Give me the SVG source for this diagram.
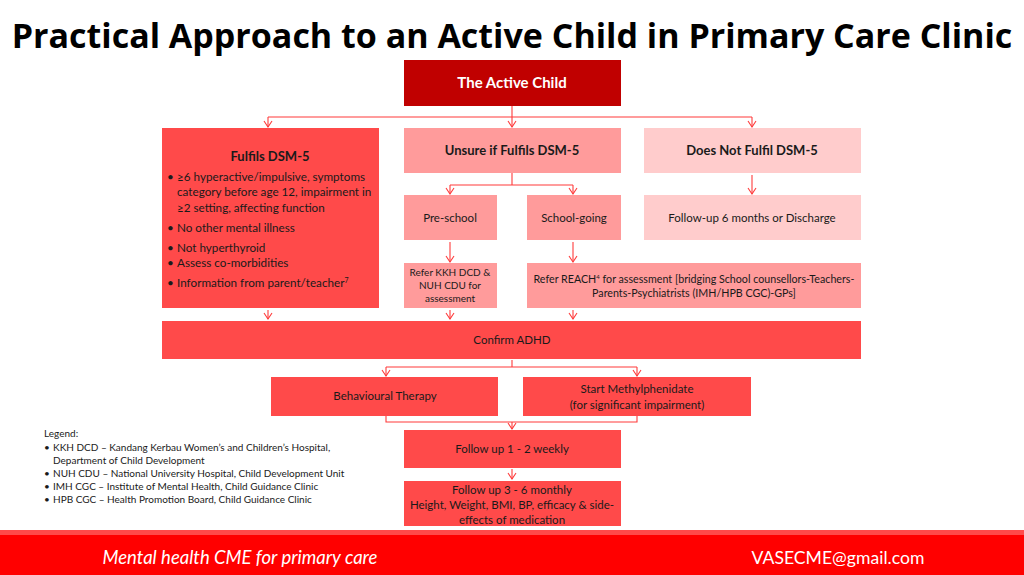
<svg xmlns="http://www.w3.org/2000/svg" width="1024" height="575" viewBox="0 0 1024 575">
<defs>
<marker id="ah" markerWidth="10" markerHeight="10" refX="8.5" refY="5" orient="auto" markerUnits="userSpaceOnUse" viewBox="0 0 10 10">
<path d="M2.5,1 L8.5,5 L2.5,9" fill="none" stroke="#ff3b3b" stroke-width="1.1"/>
</marker>
</defs>
<style>
.t{font-family:Lato,"Liberation Sans",sans-serif;fill:#1a1a1a;text-anchor:middle}
.b{font-weight:bold}
.dk{fill:#c00000}
.md{fill:#ff4a4a}
.lt{fill:#ff9b9b}
.vl{fill:#ffcccc}
.c{fill:none;stroke:#ff3b3b;stroke-width:1.1}
.l{font-family:Lato,"Liberation Sans",sans-serif;fill:#1a1a1a;font-size:10px}
.bl{font-family:Lato,"Liberation Sans",sans-serif;fill:#1a1a1a;font-size:11.7px}
</style>
<rect width="1024" height="575" fill="#ffffff"/>
<text x="512" y="48" font-family="'Open Sans','Noto Sans',sans-serif" font-weight="bold" font-size="34" text-anchor="middle" fill="#000">Practical Approach to an Active Child in Primary Care Clinic</text>

<g id="connectors">
<path class="c" d="M512,106 V117 M268,117 H752"/>
<path class="c" d="M268,117 V127" marker-end="url(#ah)"/>
<path class="c" d="M512,117 V127" marker-end="url(#ah)"/>
<path class="c" d="M752,117 V127" marker-end="url(#ah)"/>
<path class="c" d="M512,173 V185 M450,185 H573"/>
<path class="c" d="M450,185 V194" marker-end="url(#ah)"/>
<path class="c" d="M573,185 V194" marker-end="url(#ah)"/>
<path class="c" d="M752,175 V194" marker-end="url(#ah)"/>
<path class="c" d="M450,242 V262" marker-end="url(#ah)"/>
<path class="c" d="M573,242 V262" marker-end="url(#ah)"/>
<path class="c" d="M268,310 V319" marker-end="url(#ah)"/>
<path class="c" d="M450,310 V319" marker-end="url(#ah)"/>
<path class="c" d="M573,310 V319" marker-end="url(#ah)"/>
<path class="c" d="M512,360 V367 M386,367 H637"/>
<path class="c" d="M386,367 V376" marker-end="url(#ah)"/>
<path class="c" d="M637,367 V376" marker-end="url(#ah)"/>
<path class="c" d="M386,416 V422 H637 V416"/>
<path class="c" d="M512,422 V429" marker-end="url(#ah)"/>
<path class="c" d="M512,469 V479" marker-end="url(#ah)"/>
</g>

<g id="active-child">
<rect class="dk" x="404" y="60" width="217" height="46"/>
<text class="t b" x="512" y="88" font-size="15" style="fill:#fff">The Active Child</text>
</g>

<g id="fulfils">
<rect class="md" x="162" y="128" width="217" height="180"/>
<text class="t b" x="270" y="161" font-size="13">Fulfils DSM-5</text>
<g class="bl">
<text x="167" y="181">•</text><text x="177" y="181">≥6 hyperactive/impulsive, symptoms</text>
<text x="177" y="196">category before age 12, impairment in</text>
<text x="177" y="212">≥2 setting, affecting function</text>
<text x="167" y="232">•</text><text x="177" y="232">No other mental illness</text>
<text x="167" y="252">•</text><text x="177" y="252">Not hyperthyroid</text>
<text x="167" y="267">•</text><text x="177" y="267">Assess co-morbidities</text>
<text x="167" y="287">•</text><text x="177" y="287">Information from parent/teacher<tspan font-size="7" dy="-4">7</tspan></text>
</g>
</g>

<g id="unsure">
<rect class="lt" x="404" y="128" width="217" height="45"/>
<text class="t b" x="512" y="155" font-size="13">Unsure if Fulfils DSM-5</text>
</g>

<g id="not-fulfil">
<rect class="vl" x="644" y="128" width="217" height="45"/>
<text class="t b" x="752" y="155" font-size="13">Does Not Fulfil DSM-5</text>
</g>

<g id="pre-school">
<rect class="lt" x="404" y="195" width="93" height="45"/>
<text class="t" x="450" y="222" font-size="11.5">Pre-school</text>
</g>

<g id="school-going">
<rect class="lt" x="527" y="195" width="94" height="45"/>
<text class="t" x="574" y="222" font-size="11.5">School-going</text>
</g>

<g id="follow-up-6">
<rect class="vl" x="644" y="195" width="217" height="45"/>
<text class="t" x="752" y="222" font-size="11.5">Follow-up 6 months or Discharge</text>
</g>

<g id="refer-kkh">
<rect class="lt" x="404" y="263" width="93" height="45"/>
<text class="t" x="450" y="276" font-size="10">Refer KKH DCD &amp;</text>
<text class="t" x="450" y="289" font-size="10">NUH CDU for</text>
<text class="t" x="450" y="302" font-size="10">assessment</text>
</g>

<g id="refer-reach">
<rect class="lt" x="527" y="263" width="334" height="45"/>
<text class="t" x="694" y="283" font-size="10.7">Refer REACH<tspan font-size="6" dy="-4">4</tspan><tspan dy="4"> for assessment [bridging School counsellors-Teachers-</tspan></text>
<text class="t" x="694" y="297" font-size="10.7">Parents-Psychiatrists (IMH/HPB CGC)-GPs]</text>
</g>

<g id="confirm-adhd">
<rect class="md" x="162" y="321" width="699" height="38"/>
<text class="t" x="512" y="344" font-size="11.5">Confirm ADHD</text>
</g>

<g id="behavioural">
<rect class="md" x="271" y="377" width="227" height="39"/>
<text class="t" x="385" y="400" font-size="11.5">Behavioural Therapy</text>
</g>

<g id="methylphenidate">
<rect class="md" x="523" y="377" width="228" height="39"/>
<text class="t" x="637" y="393" font-size="11.5">Start Methylphenidate</text>
<text class="t" x="637" y="409" font-size="11.5">(for significant impairment)</text>
</g>

<g id="follow-up-1-2">
<rect class="md" x="404" y="430" width="217" height="38"/>
<text class="t" x="512" y="453" font-size="11.5">Follow up 1 - 2 weekly</text>
</g>

<g id="follow-up-3-6">
<rect class="md" x="404" y="481" width="217" height="45"/>
<text class="t" x="512" y="494" font-size="11.5">Follow up 3 - 6 monthly</text>
<text class="t" x="512" y="509" font-size="11.5">Height, Weight, BMI, BP, efficacy &amp; side-</text>
<text class="t" x="512" y="524" font-size="11.5">effects of medication</text>
</g>

<g id="legend" class="l">
<text x="44" y="437">Legend:</text>
<text x="44" y="451">•</text><text x="53" y="451">KKH DCD – Kandang Kerbau Women’s and Children’s Hospital,</text>
<text x="53" y="464">Department of Child Development</text>
<text x="44" y="477">•</text><text x="53" y="477">NUH CDU – National University Hospital, Child Development Unit</text>
<text x="44" y="490">•</text><text x="53" y="490">IMH CGC – Institute of Mental Health, Child Guidance Clinic</text>
<text x="44" y="503">•</text><text x="53" y="503">HPB CGC – Health Promotion Board, Child Guidance Clinic</text>
</g>

<g id="footer">
<rect x="0" y="530" width="1024" height="45" fill="#ff0000"/>
<rect x="0" y="530" width="1024" height="5" fill="#ff4a4a"/>
<text x="240" y="564" font-family="Lato,'Liberation Sans',sans-serif" font-style="italic" font-size="18.5" fill="#fff" text-anchor="middle">Mental health CME for primary care</text>
<text x="838" y="564" font-family="Lato,'Liberation Sans',sans-serif" font-size="17.6" fill="#fff" text-anchor="middle">VASECME@gmail.com</text>
</g>
</svg>
